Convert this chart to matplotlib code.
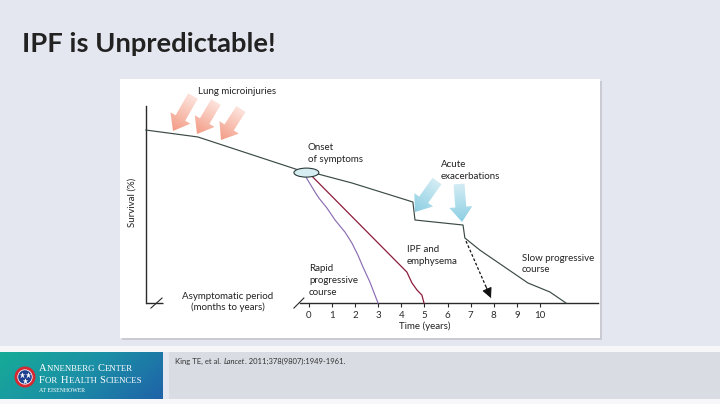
import numpy as np
import matplotlib.pyplot as plt
import matplotlib.patches as mpatches
from matplotlib.colors import LinearSegmentedColormap

plt.rcParams["font.family"] = ["Lato", "DejaVu Sans"]

# ── 데이터 ───────────────────────────────────────────────────────
# x: 연(years), 음수 구간은 무증상기(압축 표시), y: 생존율(%)
survival_years = [-7.06, -4.81, -0.11, 0.39, 1.86, 4.50, 4.59, 6.67, 6.75, 7.40, 9.48, 10.43, 11.13]
survival_pct = [100.0, 96.0, 75.4, 74.6, 69.4, 58.4, 48.0, 45.1, 37.6, 30.6, 11.6, 6.4, 0.0]

rapid_years = [-0.13, 0.26, 0.43, 0.78, 1.13, 1.56, 1.86, 2.12, 2.34, 2.64, 2.99]
rapid_pct = [72.8, 64.2, 60.7, 54.9, 48.0, 41.0, 34.7, 27.7, 20.8, 12.1, 0.0]

emph_years = [0.17, 4.24, 4.46, 4.68, 4.89, 4.98]
emph_pct = [72.8, 17.9, 11.6, 7.5, 4.6, 0.0]

death_arrow_years = [6.80, 7.88]
death_arrow_pct = [35.8, 2.9]

onset_year, onset_pct = -0.11, 75.4
tick_years = list(range(0, 11))

W, H = 720, 404
BG = "#e5e7f0"

fig = plt.figure(figsize=(W / 100, H / 100), dpi=100)
fig.patch.set_facecolor(BG)

# 배경용 축 (픽셀 좌표, y 아래로 증가)
bg = fig.add_axes([0, 0, 1, 1])
bg.set_xlim(0, W)
bg.set_ylim(H, 0)
bg.axis("off")


def rect(x0, y0, x1, y1, color, z=1):
    bg.add_patch(mpatches.Rectangle((x0, y0), x1 - x0, y1 - y0, fc=color, ec="none", zorder=z))


def grad_arrow(tail, tip, c0, c1, shaft=11, head_w=23, head_l=15):
    (x0, y0), (x1, y1) = tail, tip
    dx, dy = x1 - x0, y1 - y0
    arr = mpatches.FancyArrow(x0, y0, dx, dy, width=shaft, head_width=head_w,
                              head_length=head_l, length_includes_head=True,
                              fc="none", ec="none")
    bg.add_patch(arr)
    xs = np.linspace(min(x0, x1) - 15, max(x0, x1) + 15, 80)
    ys = np.linspace(min(y0, y1) - 15, max(y0, y1) + 15, 80)
    gx, gy = np.meshgrid(xs, ys)
    v = ((gx - x0) * dx + (gy - y0) * dy) / (dx * dx + dy * dy)
    cmap = LinearSegmentedColormap.from_list("g", [c0, c1])
    im = bg.imshow(v, cmap=cmap, vmin=0, vmax=1, origin="lower",
                   extent=(xs[0], xs[-1], ys[0], ys[-1]), aspect="auto",
                   interpolation="bilinear", zorder=3)
    im.set_clip_path(arr)


def draw_runs(x, y, runs, **kw):
    r = fig.canvas.get_renderer()
    for s, extra in runs:
        t = bg.text(x, y, s, **{**kw, **extra})
        x += t.get_window_extent(renderer=r).width + 0.6


# ── 슬라이드 틀 ──────────────────────────────────────────────────────────
bg.text(22, 52.5, "IPF is Unpredictable!", fontsize=19.7, fontweight="bold",
        color="#222222", va="baseline")

rect(122, 81, 602, 340, "#c9cad2")
rect(120, 79, 600, 338, "white")
rect(0, 346, W, 352, "#f7f7fa")
rect(0, 399, W, H, "#f7f7fa")
rect(169, 352, W, 399, "#d9dce3")

gx = np.linspace(0, 1, 100)
gy = np.linspace(0, 1, 20)
GX, GY = np.meshgrid(gx, gy)
banner = LinearSegmentedColormap.from_list("b", ["#17ab98", "#1b8fa6", "#1f63a8"])
bg.imshow(0.75 * GX + 0.25 * GY, cmap=banner, extent=(0, 163, 399, 352),
          aspect="auto", interpolation="bilinear", zorder=1)

# 로고
bg.add_patch(mpatches.Circle((25, 377), 10.5, fc="#d42a34", ec="none", zorder=2))
bg.add_patch(mpatches.Circle((25, 377), 7.6, fc="white", ec="none", zorder=2))
bg.add_patch(mpatches.Circle((25, 377), 6.8, fc="#1f3f8f", ec="none", zorder=2))
bg.plot([21.8, 28.2, 25], [374.5, 374.5, 380.5], ls="none", marker="*",
        ms=5, color="white", mec="none", zorder=3)

serif = dict(family=["Liberation Serif", "DejaVu Serif"], color="white", va="baseline")
big, small = dict(fontsize=7.6), dict(fontsize=6.3)
draw_runs(39, 371.3, [("A", big), ("NNENBERG ", small), ("C", big), ("ENTER", small)], **serif)
draw_runs(39, 383.2, [("F", big), ("OR ", small), ("H", big), ("EALTH ", small),
                      ("S", big), ("CIENCES", small)], **serif)
bg.text(39, 391.5, "AT EISENHOWER", fontsize=4.2, **serif)

cite = dict(color="#333333", va="baseline", fontsize=5.5)
draw_runs(175, 364, [("King TE, et al. ", {}), ("Lancet", dict(style="italic")),
                     (". 2011;378(9807):1949-1961.", {})], **cite)

# ── 도식 축 (연도 × 생존율) ──────────────────────────────────────────────
ax = fig.add_axes([120 / W, 1 - 338 / H, 480 / W, 259 / H])
ax.set_xlim(-8.18, 12.60)
ax.set_ylim(-20.2, 129.5)
ax.patch.set_visible(False)

AX_C = "#2a2a2a"
for side in ("top", "right"):
    ax.spines[side].set_visible(False)
ax.spines["left"].set_position(("data", -7.06))
ax.spines["left"].set_bounds(0, 113.9)
ax.spines["bottom"].set_position(("data", 0))
ax.spines["bottom"].set_bounds(-0.39, 12.5)
for side in ("left", "bottom"):
    ax.spines[side].set_linewidth(1.0)
    ax.spines[side].set_color(AX_C)
ax.set_yticks([])
ax.set_xticks(tick_years)
ax.tick_params(axis="x", direction="out", length=3, width=0.8, pad=2.5,
               labelsize=7, colors=AX_C)

# 무증상기 축 조각과 끊김 표시
ax.plot([-7.06, -6.32], [0, 0], color=AX_C, lw=1.0, solid_capstyle="butt")
ax.plot([-6.84, -6.36], [-2.9, 2.9], color=AX_C, lw=0.8)
ax.plot([-0.65, -0.22], [-2.9, 2.9], color=AX_C, lw=0.8)

ax.plot(survival_years, survival_pct, color="#3b4a47", lw=0.85, zorder=3)
ax.plot(rapid_years, rapid_pct, color="#8b6db3", lw=0.85, zorder=3)
ax.plot(emph_years, emph_pct, color="#8c1c3c", lw=0.9, zorder=3)

ax.plot(death_arrow_years, death_arrow_pct, color="#111111", lw=0.9,
        ls=(0, (2.2, 1.6)), zorder=3)
ax.annotate("", xy=(death_arrow_years[1], death_arrow_pct[1]),
            xytext=(death_arrow_years[1] - 0.2, death_arrow_pct[1] + 6.1),
            arrowprops=dict(arrowstyle="-|>,head_length=0.6,head_width=0.3",
                            color="#111111", lw=0.8, shrinkA=0, shrinkB=0,
                            mutation_scale=10))

ax.add_patch(mpatches.Ellipse((onset_year, onset_pct), 1.08, 5.2, fc="#d6eef2",
                              ec="#2c3a3a", lw=0.8, zorder=4))

# ── 화살표와 주석 ─────────────────────────────────────────────────────────
for tail, tip in [((193, 96), (173, 131)), ((216, 102), (197, 134)), ((241, 109), (221, 140))]:
    grad_arrow(tail, tip, "#fde3dc", "#f39c86")
for tail, tip in [((437, 181), (415, 212)), ((459, 184), (462, 222))]:
    grad_arrow(tail, tip, "#d3ecf4", "#8ccfe3")

lab = dict(fontsize=7, color="#222222", va="baseline", zorder=5)
bg.text(198, 94.5, "Lung microinjuries", **lab)
for i, s in enumerate(["Onset", "of symptoms"]):
    bg.text(308, 149.5 + 12 * i, s, **lab)
for i, s in enumerate(["Acute", "exacerbations"]):
    bg.text(441, 166.7 + 12.3 * i, s, **lab)
for i, s in enumerate(["IPF and", "emphysema"]):
    bg.text(407, 252.3 + 12 * i, s, **lab)
for i, s in enumerate(["Rapid", "progressive", "course"]):
    bg.text(309, 270.7 + 12.2 * i, s, **lab)
for i, s in enumerate(["Slow progressive", "course"]):
    bg.text(522, 260.7 + 11.2 * i, s, **lab)
for i, s in enumerate(["Asymptomatic period", "(months to years)"]):
    bg.text(228, 299 + 11.5 * i, s, ha="center", **lab)
bg.text(425, 329.3, "Time (years)", ha="center", **lab)
bg.text(132, 202, "Survival (%)", rotation=90, ha="center", va="center",
        fontsize=7, color="#222222")

fig.savefig("out.png", dpi=100, facecolor=fig.get_facecolor())
